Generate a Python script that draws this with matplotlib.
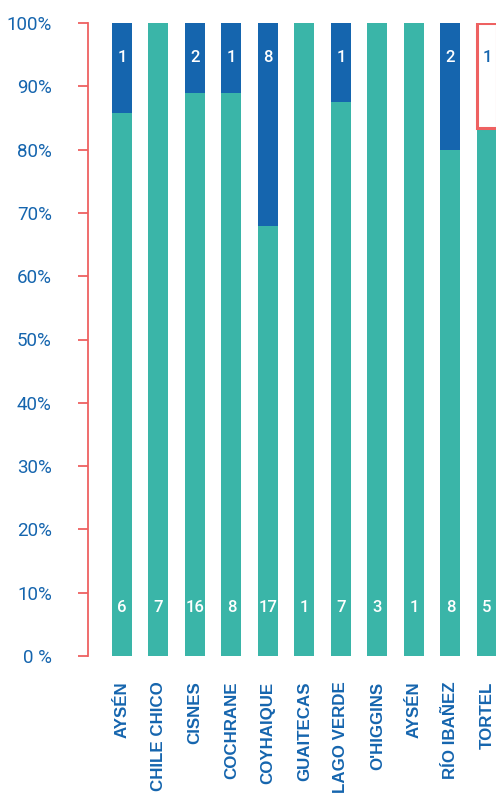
import matplotlib
matplotlib.use('Agg')
import matplotlib.pyplot as plt
import numpy as np

# communes and counts per segment
comunas = ['AYSÉN', 'CHILE CHICO', 'CISNES', 'COCHRANE', 'COYHAIQUE', 'GUAITECAS',
           'LAGO VERDE', "O'HIGGINS", 'AYSÉN', 'RÍO IBAÑEZ', 'TORTEL']
serie_a = [6, 7, 16, 8, 17, 1, 7, 3, 1, 8, 5]
serie_b = [1, 0, 2, 1, 8, 0, 1, 0, 0, 2, 1]
y_ticks = [0, 10, 20, 30, 40, 50, 60, 70, 80, 90, 100]
y_labels = ['0 %', '10%', '20%', '30%', '40%', '50%', '60%', '70%', '80%', '90%', '100%']
highlight = 10  # hovered segment (TORTEL, serie_b)

TEAL = '#3ab5a8'
BLUE = '#1565ae'
RED = '#ee6161'

a = np.array(serie_a, dtype=float)
b = np.array(serie_b, dtype=float)
tot = a + b
pa = a / tot * 100
pb = b / tot * 100

fig = plt.figure(figsize=(4.96, 7.93), dpi=100)
ax = fig.add_axes([88 / 496, 1 - 656 / 793, 1 - 88 / 496, (656 - 23) / 793])

x = np.arange(len(comunas))
w = 0.55
ax.bar(x, pa, width=w, color=TEAL, zorder=2)
colors_b = [BLUE] * len(x)
colors_b[highlight] = 'white'
bars_b = ax.bar(x, pb, width=w, bottom=pa, color=colors_b, zorder=2)
bars_b[highlight].set_edgecolor(RED)
bars_b[highlight].set_linewidth(2.2)

for i in range(len(x)):
    ax.text(x[i], 7.7, str(serie_a[i]), color='white', ha='center', va='center',
            fontsize=12, fontweight='medium', family=['Roboto', 'DejaVu Sans'], zorder=3)
    if serie_b[i] > 0:
        c = BLUE if i == highlight else 'white'
        ax.text(x[i], 94.5, str(serie_b[i]), color=c, ha='center', va='center',
                fontsize=12, fontweight='medium', family=['Roboto', 'DejaVu Sans'], zorder=3)

ax.set_xlim(-0.93, 10.25)
ax.set_ylim(0, 100)

ax.set_yticks(y_ticks)
ax.set_yticklabels(y_labels, color=BLUE, fontsize=13.5, family=['Roboto', 'DejaVu Sans'])
ax.tick_params(axis='y', direction='out', length=7, width=1.3, color=RED, pad=19)

ax.set_xticks(x)
ax.set_xticklabels(comunas, rotation=90, color=BLUE, fontsize=12.2, fontweight='bold',
                   family=['Liberation Sans', 'DejaVu Sans'], va='top', ha='center')
ax.tick_params(axis='x', length=0, pad=18.5)

for s in ['top', 'right', 'bottom']:
    ax.spines[s].set_visible(False)
ax.spines['left'].set_color(RED)
ax.spines['left'].set_linewidth(1.3)

fig.savefig('out.png', dpi=100)
